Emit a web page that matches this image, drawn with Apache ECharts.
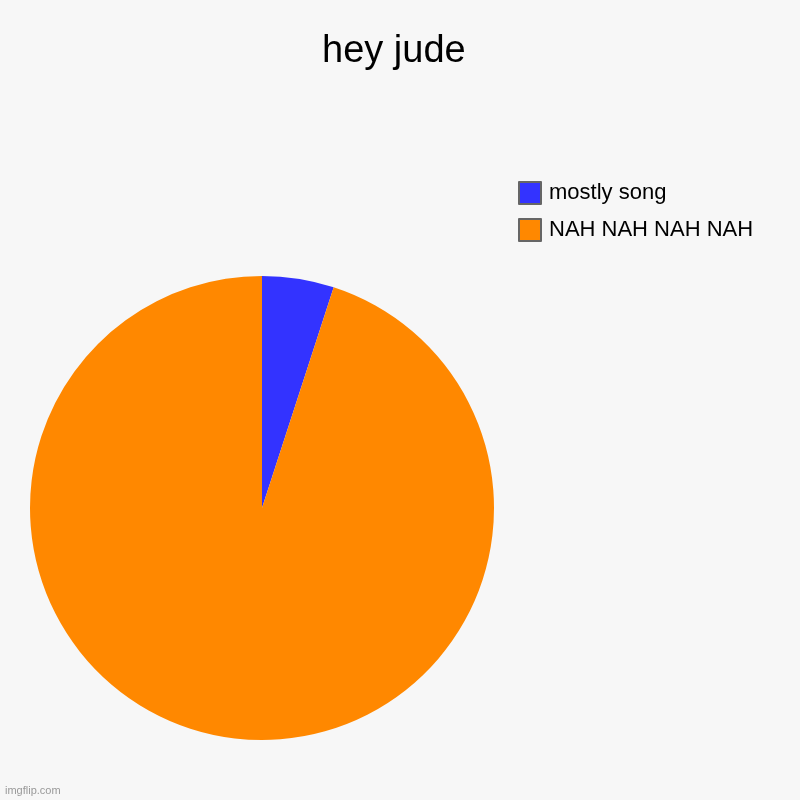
<!DOCTYPE html>
<html>
<head>
<meta charset="utf-8">
<script src="https://cdn.jsdelivr.net/npm/echarts@6/dist/echarts.min.js"></script>
<style>
html,body{margin:0;padding:0;background:#f7f7f7;}
#c{width:800px;height:800px;}
</style>
</head>
<body>
<div id="c"></div>
<script>
const categories = ['mostly song', 'NAH NAH NAH NAH'];
const values = [5, 95];
const colors = ['#3333ff', '#ff8800'];

const chart = echarts.init(document.getElementById('c'));
chart.setOption({
  animation: false,
  backgroundColor: '#f7f7f7',
  title: {
    text: 'hey jude',
    left: 322,
    top: 33,
    padding: 0,
    textStyle: {fontFamily: 'Liberation Sans', fontSize: 38, fontWeight: 'normal', color: '#000'}
  },
  legend: {
    orient: 'vertical',
    left: 518,
    top: 181,
    padding: 0,
    icon: 'rect',
    itemWidth: 22,
    itemHeight: 22,
    itemGap: 13,
    data: categories,
    itemStyle: {borderColor: '#666666', borderWidth: 2},
    textStyle: {fontFamily: 'Liberation Sans', fontSize: 22, color: '#000', padding: [2,0,0,3]}
  },
  graphic: [{
    type: 'text', left: 5, top: 785,
    style: {text: 'imgflip.com', fontFamily: 'Liberation Sans', fontSize: 11, fill: '#999'}
  }],
  series: [{
    type: 'pie',
    center: [262, 508],
    radius: 232,
    startAngle: 90,
    clockwise: true,
    label: {show: false},
    labelLine: {show: false},
    itemStyle: {borderWidth: 0},
    emphasis: {disabled: true},
    data: categories.map((c, i) => ({name: c, value: values[i], itemStyle: {color: colors[i]}}))
  }]
});
</script>
</body>
</html>
